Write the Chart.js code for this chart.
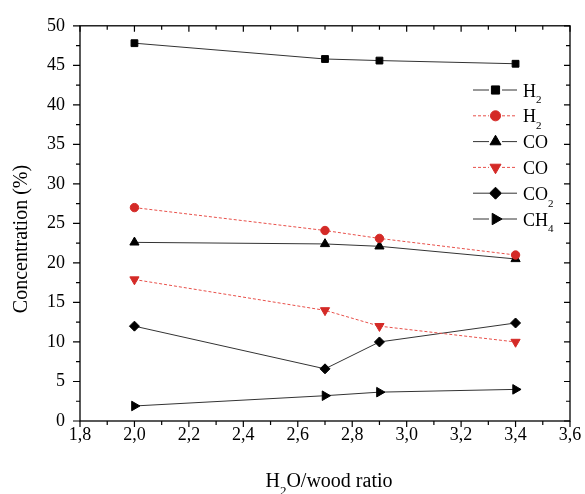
<!DOCTYPE html>
<html>
<head>
<meta charset="utf-8">
<script src="https://cdn.jsdelivr.net/npm/chart.js@4/dist/chart.umd.min.js"></script>
<style>
  html, body { margin: 0; padding: 0; background: #fff; }
  #wrap { width: 585px; height: 494px; }
</style>
</head>
<body>
<div id="wrap"><canvas id="gasChart" width="585" height="494"></canvas></div>
<script>
// H2O/wood ratio (x) and gas concentrations (%)
const ratios = [2.0, 2.7, 2.9, 3.4];
const h2Values = [47.8, 45.8, 45.6, 45.2];
const h2RedValues = [27.0, 24.1, 23.1, 21.0];
const coValues = [22.6, 22.4, 22.1, 20.5];
const coRedValues = [17.9, 14.0, 12.0, 10.0];
const co2Values = [12.0, 6.6, 10.0, 12.4];
const ch4Values = [1.9, 3.2, 3.65, 4.0];
const seriesLabels = ["H2", "H2", "CO", "CO", "CO2", "CH4"];
const xTickValues = [1.8, 2.0, 2.2, 2.4, 2.6, 2.8, 3.0, 3.2, 3.4, 3.6];
const yTickValues = [0, 5, 10, 15, 20, 25, 30, 35, 40, 45, 50];

const FONT = "'Liberation Serif', 'Times New Roman', serif";
const BLACK = "#000";
const RED = "#d42a27";

function toPoints(vals) {
  return ratios.map((x, i) => ({ x: x, y: vals[i] }));
}

function series(i, vals, pointStyle, radius, red, rotation) {
  return {
    label: seriesLabels[i],
    data: toPoints(vals),
    borderColor: red ? "#e8504a" : "#333",
    borderWidth: 1,
    borderDash: red ? [3, 2] : [],
    pointStyle: pointStyle,
    pointRotation: rotation || 0,
    pointRadius: radius,
    pointBorderWidth: 1,
    pointBackgroundColor: red ? RED : BLACK,
    pointBorderColor: red ? RED : BLACK,
    tension: 0,
    fill: false,
  };
}

// draw text where digits become subscripts (H2 -> H₂)
function drawSubText(ctx, text, x, baseline, size, subSize, align) {
  const parts = text.split(/(\d+)/);
  ctx.textBaseline = "alphabetic";
  ctx.textAlign = "left";
  let total = 0;
  parts.forEach((p, k) => {
    ctx.font = (k % 2 ? subSize : size) + "px " + FONT;
    total += ctx.measureText(p).width;
  });
  let cx = align === "center" ? x - total / 2 : x;
  parts.forEach((p, k) => {
    const sub = k % 2 === 1;
    ctx.font = (sub ? subSize : size) + "px " + FONT;
    ctx.fillText(p, cx, sub ? baseline + size * 0.38 : baseline);
    cx += ctx.measureText(p).width;
  });
}

const framePlugin = {
  id: "frame",
  afterDraw(chart) {
    const ctx = chart.ctx;
    const a = chart.chartArea;
    const xs = chart.scales.x, ys = chart.scales.y;
    ctx.save();
    ctx.strokeStyle = "#000";
    ctx.lineWidth = 1.3;
    ctx.strokeRect(a.left, a.top, a.right - a.left, a.bottom - a.top);
    ctx.lineWidth = 1.2;
    ctx.beginPath();
    xTickValues.forEach((v, i) => {
      const px = xs.getPixelForValue(v);
      ctx.moveTo(px, a.bottom); ctx.lineTo(px, a.bottom + 6);
      ctx.moveTo(px, a.top); ctx.lineTo(px, a.top + 6);
      if (i < xTickValues.length - 1) {
        const mx = xs.getPixelForValue((v + xTickValues[i + 1]) / 2);
        ctx.moveTo(mx, a.bottom); ctx.lineTo(mx, a.bottom + 4);
        ctx.moveTo(mx, a.top); ctx.lineTo(mx, a.top + 4);
      }
    });
    yTickValues.forEach((v, i) => {
      const py = ys.getPixelForValue(v);
      ctx.moveTo(a.left, py); ctx.lineTo(a.left - 7, py);
      ctx.moveTo(a.right, py); ctx.lineTo(a.right - 6, py);
      if (i < yTickValues.length - 1) {
        const my = ys.getPixelForValue((v + yTickValues[i + 1]) / 2);
        ctx.moveTo(a.left, my); ctx.lineTo(a.left - 4, my);
        ctx.moveTo(a.right, my); ctx.lineTo(a.right - 4, my);
      }
    });
    ctx.stroke();

    // axis titles
    ctx.fillStyle = "#000";
    drawSubText(ctx, "H2O/wood ratio", 329, 487, 20, 13, "center");
    ctx.translate(22, 239);
    ctx.rotate(-Math.PI / 2);
    ctx.font = "20px " + FONT;
    ctx.textAlign = "center";
    ctx.textBaseline = "middle";
    ctx.fillText("Concentration (%)", 0, 0);
    ctx.restore();
  }
};

const legendPlugin = {
  id: "sideLegend",
  afterDraw(chart) {
    const ctx = chart.ctx;
    chart.data.datasets.forEach((ds, i) => {
      const y = 90 + i * 25.8;
      ctx.save();
      ctx.strokeStyle = ds.borderColor;
      ctx.lineWidth = 1;
      ctx.setLineDash(ds.borderDash);
      ctx.beginPath();
      ctx.moveTo(473, y); ctx.lineTo(489, y);
      ctx.moveTo(502, y); ctx.lineTo(517, y);
      ctx.stroke();
      ctx.setLineDash([]);
      ctx.fillStyle = ds.pointBackgroundColor;
      ctx.strokeStyle = ds.pointBorderColor;
      Chart.helpers.drawPoint(ctx, {
        pointStyle: ds.pointStyle,
        rotation: ds.pointRotation,
        radius: ds.pointRadius * 1.2,
        borderWidth: 1
      }, 495.5, y);
      ctx.fillStyle = "#000";
      drawSubText(ctx, seriesLabels[i], 523, y + 6.5, 18, 11);
      ctx.restore();
    });
  }
};

new Chart(document.getElementById("gasChart").getContext("2d"), {
  type: "line",
  data: {
    datasets: [
      series(0, h2Values, "rect", 4.8, false),
      series(1, h2RedValues, "circle", 4.2, true),
      series(2, coValues, "triangle", 5.3, false),
      series(3, coRedValues, "triangle", 5.3, true, 180),
      series(4, co2Values, "rectRot", 5, false),
      series(5, ch4Values, "triangle", 5.5, false, 90),
    ],
  },
  options: {
    responsive: false,
    animation: false,
    devicePixelRatio: 1,
    layout: { padding: { top: 21, right: 15, left: 0, bottom: 0 } },
    plugins: {
      legend: { display: false },
      tooltip: { enabled: false },
    },
    scales: {
      x: {
        type: "linear",
        min: 1.8,
        max: 3.6,
        afterBuildTicks: (s) => { s.ticks = xTickValues.map((v) => ({ value: v })); },
        afterFit: (s) => { s.height = 73; },
        grid: { display: false, drawTicks: false },
        border: { display: false },
        ticks: {
          autoSkip: false,
          maxRotation: 0,
          padding: 3,
          color: "#000",
          font: { family: FONT, size: 18 },
          callback: (v) => Number(v).toFixed(1).replace(".", ","),
        },
      },
      y: {
        type: "linear",
        min: 0,
        max: 50,
        afterBuildTicks: (s) => { s.ticks = yTickValues.map((v) => ({ value: v })); },
        afterFit: (s) => { s.width = 80; },
        grid: { display: false, drawTicks: false },
        border: { display: false },
        ticks: {
          padding: 15,
          color: "#000",
          font: { family: FONT, size: 18 },
          callback: (v) => String(v),
        },
      },
    },
  },
  plugins: [framePlugin, legendPlugin],
});
</script>
</body>
</html>
